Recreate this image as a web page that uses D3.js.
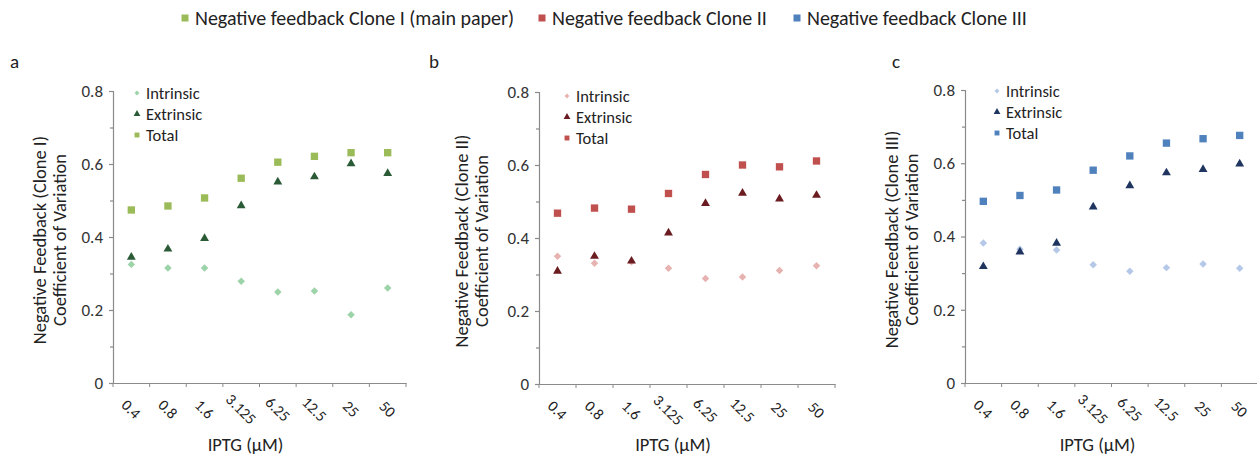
<!DOCTYPE html>
<html>
<head>
<meta charset="utf-8">
<script src="https://cdn.jsdelivr.net/npm/d3@7"></script>
<style>
  html, body { margin: 0; padding: 0; background: #fff; }
  svg { display: block; font-family: Carlito, Lato, "Open Sans", sans-serif; }
</style>
</head>
<body>
<svg id="chart" width="1257" height="458"></svg>
<script>
// IPTG concentrations (µM) on the x axis
const iptg = ["0.4", "0.8", "1.6", "3.125", "6.25", "12.5", "25", "50"];
const yTicks = [0, 0.2, 0.4, 0.6, 0.8];
const yMinorTicks = [0.1, 0.3, 0.5, 0.7];
const noiseTypes = ["Intrinsic", "Extrinsic", "Total"];
const cloneNames = ["Negative feedback Clone I (main paper)", "Negative feedback Clone II", "Negative feedback Clone III"];
const panelLetters = ["a", "b", "c"];
const panelTitles = ["Negative Feedback (Clone I)", "Negative Feedback (Clone II)", "Negative Feedback (Clone III)"];

// Coefficient of variation per clone
const clone1Intrinsic = [0.325, 0.315, 0.315, 0.279, 0.249, 0.252, 0.187, 0.260];
const clone1Extrinsic = [0.345, 0.367, 0.396, 0.486, 0.551, 0.565, 0.601, 0.574];
const clone1Total     = [0.474, 0.485, 0.507, 0.561, 0.605, 0.621, 0.631, 0.631];

const clone2Intrinsic = [0.350, 0.331, 0.335, 0.317, 0.289, 0.293, 0.311, 0.324];
const clone2Extrinsic = [0.309, 0.350, 0.337, 0.414, 0.495, 0.523, 0.507, 0.517];
const clone2Total     = [0.468, 0.482, 0.479, 0.522, 0.574, 0.600, 0.595, 0.611];

const clone3Intrinsic = [0.382, 0.365, 0.363, 0.323, 0.305, 0.315, 0.325, 0.313];
const clone3Extrinsic = [0.318, 0.358, 0.382, 0.481, 0.539, 0.574, 0.583, 0.598];
const clone3Total     = [0.496, 0.512, 0.527, 0.581, 0.620, 0.655, 0.667, 0.676];

const cloneData = [
  [clone1Intrinsic, clone1Extrinsic, clone1Total],
  [clone2Intrinsic, clone2Extrinsic, clone2Total],
  [clone3Intrinsic, clone3Extrinsic, clone3Total]
];

// marker colours: [intrinsic, extrinsic, total]
const palettes = [
  ["#9dd3a8", "#2a5b36", "#9bbb59"],
  ["#e6b3b1", "#6a1c20", "#c0504d"],
  ["#b5c8e8", "#1f3560", "#4f81bd"]
];

const svg = d3.select("#chart");
const axisColor = "#8a8a8a";
const textColor = "#222";

// panel geometry
const panels = [
  { x0: 113, x1: 406, yTop: 91, yBot: 383, letterX: 10, titleX: 40, legX: 137, legY: 93 },
  { x0: 539, x1: 835, yTop: 92, yBot: 384, letterX: 429, titleX: 462, legX: 567, legY: 96 },
  { x0: 965, x1: 1258, yTop: 90, yBot: 383, letterX: 892, titleX: 892, legX: 997, legY: 91 }
];

// intrinsic markers are squares turned 45°, so they are drawn with a rotation
const symbols = [d3.symbolSquare, d3.symbolTriangle, d3.symbolSquare];
const rotations = [45, 0, 0];
const symbolSizes = [28, 34, 54];
const legendSymbolSizes = [12, 20, 24];

// top legend
const topLegend = svg.append("g");
const topLegendX = [185, 542, 797];
cloneNames.forEach((name, i) => {
  topLegend.append("rect")
    .attr("x", topLegendX[i] - 3.5).attr("y", 14.5)
    .attr("width", 7).attr("height", 7)
    .attr("fill", palettes[i][2]);
  topLegend.append("text")
    .attr("x", topLegendX[i] + 10).attr("y", 24.5)
    .attr("font-size", 20).attr("fill", textColor)
    .text(name);
});

panels.forEach((p, pi) => {
  const g = svg.append("g");
  const x = d3.scaleBand().domain(iptg).range([p.x0, p.x1]);
  const y = d3.scaleLinear().domain([0, 0.8]).range([p.yBot, p.yTop]);

  // y axis with major and minor ticks
  const yAxis = g.append("g").attr("transform", `translate(${p.x0},0)`)
    .call(d3.axisLeft(y).tickValues(yTicks).tickSize(4).tickPadding(6)
      .tickFormat(d => d === 0 ? "0" : d3.format(".1f")(d)));
  g.append("g").attr("transform", `translate(${p.x0},0)`)
    .call(d3.axisLeft(y).tickValues(yMinorTicks).tickSize(3).tickFormat(""))
    .call(a => a.select(".domain").remove());

  // x axis with ticks at category boundaries
  g.append("g").attr("transform", `translate(0,${p.yBot})`)
    .call(d3.axisBottom(x).tickSize(0).tickFormat(""));
  const bounds = iptg.map(d => x(d)).concat([p.x1]);
  g.append("g").selectAll("line").data(bounds).join("line")
    .attr("x1", d => d).attr("x2", d => d)
    .attr("y1", p.yBot).attr("y2", p.yBot + 4)
    .attr("stroke", axisColor);

  g.selectAll(".domain, .tick line").attr("stroke", axisColor).attr("stroke-width", 1.2);
  yAxis.selectAll(".tick text").attr("font-size", 17).attr("fill", "#333")
    .attr("font-family", "Carlito, Lato, sans-serif");

  // rotated category labels
  g.append("g").selectAll("text").data(iptg).join("text")
    .attr("transform", d => `translate(${x(d) + x.bandwidth() / 2},${p.yBot + 26}) rotate(45)`)
    .attr("text-anchor", "middle")
    .attr("dy", "0.35em")
    .attr("font-size", 15.5).attr("fill", textColor)
    .text(d => d);

  // x axis title
  g.append("text")
    .attr("x", (p.x0 + p.x1) / 2 - 14).attr("y", 451)
    .attr("text-anchor", "middle")
    .attr("font-size", 18.5).attr("fill", textColor)
    .text("IPTG (µM)");

  // y axis title (two lines)
  const cy = (p.yTop + p.yBot) / 2 + 3;
  const yt = g.append("text")
    .attr("transform", `translate(${p.titleX},${cy}) rotate(-90)`)
    .attr("text-anchor", "middle")
    .attr("font-size", 18.5).attr("fill", textColor);
  yt.append("tspan").attr("x", 0).attr("dy", "0.35em").text(panelTitles[pi]);
  yt.append("tspan").attr("x", 0).attr("dy", "1.08em").text("Coefficient of Variation");

  // panel letter
  g.append("text")
    .attr("x", p.letterX).attr("y", 68)
    .attr("font-size", 19).attr("fill", textColor)
    .text(panelLetters[pi]);

  // markers: intrinsic, extrinsic, then total on top
  cloneData[pi].forEach((series, si) => {
    g.append("g").selectAll("path").data(series).join("path")
      .attr("transform", (v, i) => `translate(${x(iptg[i]) + x.bandwidth() / 2},${y(v)}) rotate(${rotations[si]})`)
      .attr("d", d3.symbol().type(symbols[si]).size(symbolSizes[si]))
      .attr("fill", palettes[pi][si]);
  });

  // inner legend
  noiseTypes.forEach((name, si) => {
    const ly = p.legY + si * 21;
    g.append("path")
      .attr("transform", `translate(${p.legX},${ly}) rotate(${rotations[si]})`)
      .attr("d", d3.symbol().type(symbols[si]).size(legendSymbolSizes[si]))
      .attr("fill", palettes[pi][si]);
    g.append("text")
      .attr("x", p.legX + 9).attr("y", ly)
      .attr("dy", "0.35em")
      .attr("font-size", 16.5).attr("fill", textColor)
      .text(name);
  });
});
</script>
</body>
</html>
